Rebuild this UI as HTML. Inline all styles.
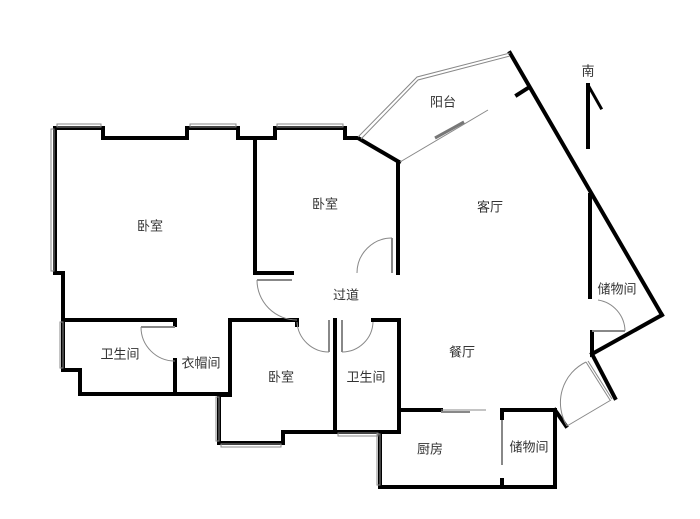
<!DOCTYPE html>
<html><head><meta charset="utf-8"><style>
html,body{margin:0;padding:0;background:#fff;width:700px;height:519px;overflow:hidden}
text{font-family:"Liberation Sans","Noto Sans CJK SC",sans-serif;font-size:13px;fill:#333;text-anchor:middle;dominant-baseline:middle}
</style></head><body>
<svg width="700" height="519" viewBox="0 0 700 519">
<g fill="none" stroke="#000" stroke-width="4" stroke-linejoin="miter" stroke-linecap="square">
<polyline points="55,273 55,128 103,128 103,138 187,138 187,128 238,128 238,138 275,138 275,128 345,128 345,138 358,138 399,162"/>
<line x1="255" y1="138" x2="255" y2="273"/>
<line x1="398" y1="162" x2="398" y2="273"/>
<line x1="255" y1="273" x2="292" y2="273"/>
<polyline points="55,273 63,273 63,320"/>
<polyline points="63,320 175,320 175,325"/>
<polyline points="63,320 63,370 80,370 80,394 230,394"/>
<line x1="175" y1="360" x2="175" y2="394"/>
<polyline points="297,325 297,320 230,320 230,395 219,395 219,443 283,443 283,432 335,432"/>
<line x1="335" y1="320" x2="335" y2="432"/>
<polyline points="373,320 399,320 399,432 335,432"/>
<polyline points="399,410 441,410"/>
<polyline points="502,418 502,410 555,410 555,487 380,487 380,432"/>
<line x1="502" y1="480" x2="502" y2="487"/>
<polyline points="555,410 566,426"/>
<line x1="510" y1="53" x2="662" y2="315"/>
<polyline points="662,315 592,354 592,332"/>
<line x1="590" y1="195" x2="590" y2="297"/>
<line x1="592" y1="354" x2="615" y2="398"/>
<line x1="528" y1="88" x2="517" y2="95"/>
<line x1="588" y1="85" x2="588" y2="147"/>
<line x1="588" y1="85" x2="601" y2="108" stroke-width="3"/>
</g>
<g fill="none" stroke="#888" stroke-width="1">
<rect x="51" y="129" width="3" height="142"/>
<rect x="57" y="124" width="44" height="3"/>
<rect x="190" y="124" width="46" height="3"/>
<rect x="277" y="124" width="66" height="3"/>
<rect x="60" y="322" width="3" height="46"/>
<rect x="216" y="397" width="3" height="44"/>
<rect x="221" y="444" width="60" height="3"/>
<rect x="338" y="433" width="40" height="3"/>
<rect x="377" y="434" width="3" height="51"/>
<polyline points="358,137 417,77 510,53"/>
<polyline points="361,139 418,80 510,56"/>
<line x1="400" y1="162" x2="488" y2="110"/>
<line x1="435" y1="138" x2="464" y2="122" stroke-width="3" stroke="#777"/>
<line x1="141" y1="327" x2="175" y2="327" stroke-width="2"/>
<path d="M141,327 A34,34 0 0 0 175,361"/>
<line x1="392" y1="238" x2="392" y2="273" stroke-width="2"/>
<path d="M357,273 A35,35 0 0 1 392,238"/>
<line x1="257" y1="280" x2="292" y2="280" stroke-width="2"/>
<path d="M257,280 A40,40 0 0 0 297,320"/>
<line x1="329" y1="320" x2="329" y2="352" stroke-width="2"/>
<path d="M297,322 A32,32 0 0 0 329,352"/>
<line x1="342" y1="320" x2="342" y2="352" stroke-width="2"/>
<path d="M373,322 A31,31 0 0 1 342,352"/>
<line x1="441" y1="410" x2="486" y2="410"/>
<line x1="441" y1="412" x2="470" y2="412" stroke-width="2"/>
<line x1="502" y1="420" x2="502" y2="465" stroke-width="2"/>
<line x1="592" y1="331" x2="625" y2="331" stroke-width="2"/>
<path d="M598,300 A32,32 0 0 1 625,331"/>
<line x1="586" y1="362" x2="610" y2="400"/>
<line x1="588" y1="361" x2="612" y2="399"/>
<line x1="611" y1="400" x2="567" y2="426"/>
<path d="M567,426 A45,45 0 0 1 586,362"/>
</g>
<text x="150" y="227">卧室</text>
<text x="325" y="205">卧室</text>
<text x="346" y="296">过道</text>
<text x="443" y="103">阳台</text>
<text x="490" y="208">客厅</text>
<text x="617" y="290">储物间</text>
<text x="588" y="72">南</text>
<text x="120" y="355">卫生间</text>
<text x="201" y="364">衣帽间</text>
<text x="281" y="378">卧室</text>
<text x="366" y="378">卫生间</text>
<text x="462" y="353">餐厅</text>
<text x="430" y="450">厨房</text>
<text x="529" y="448">储物间</text>
</svg>
</body></html>
